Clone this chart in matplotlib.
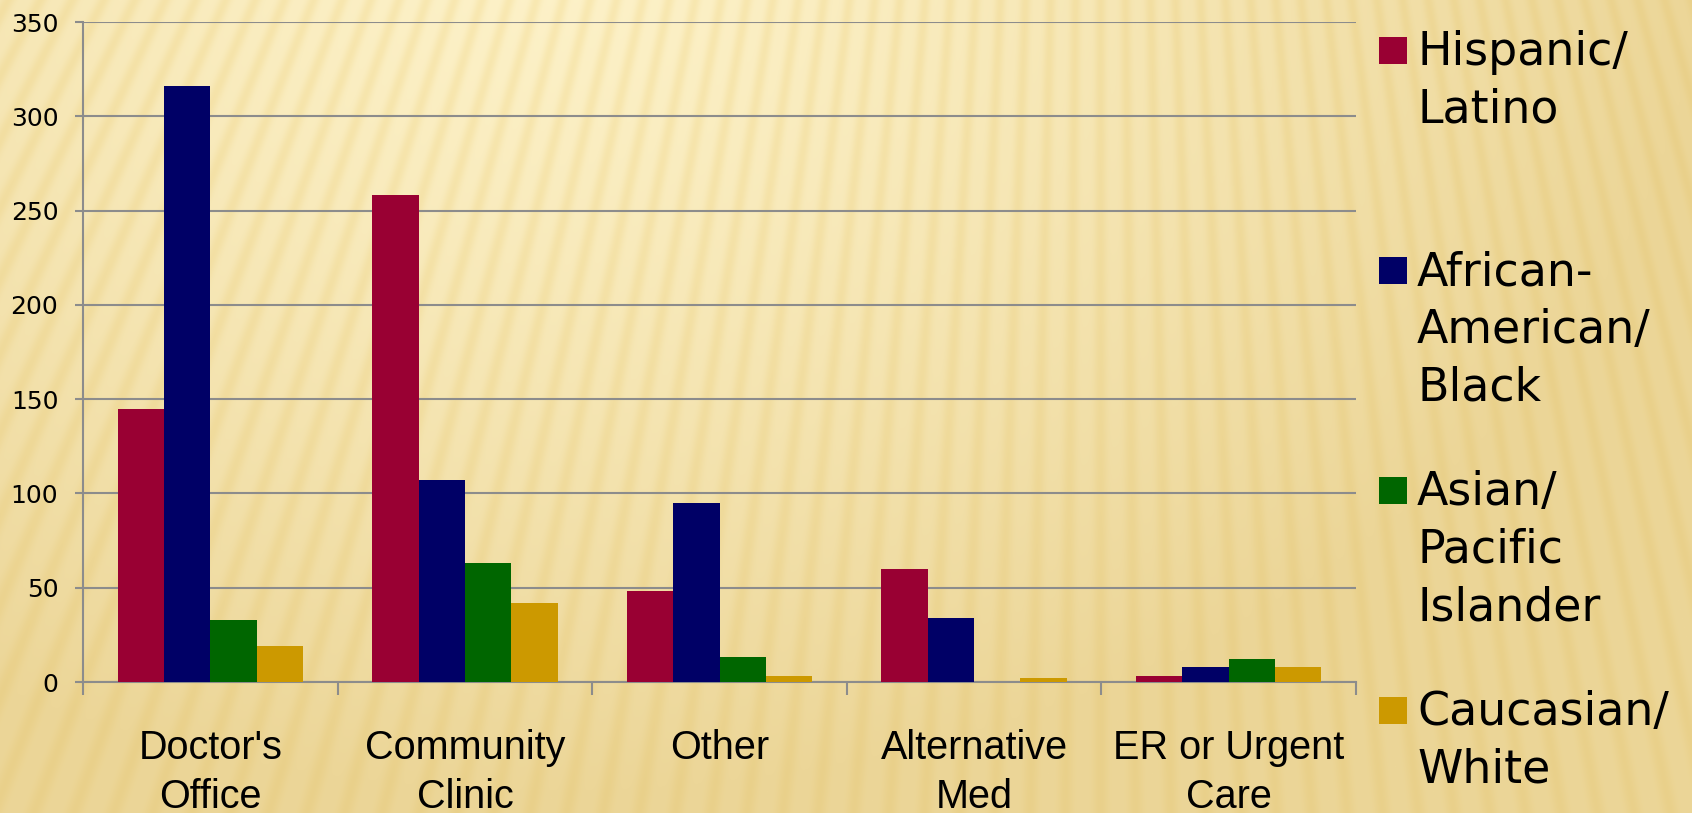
import numpy as np
import matplotlib
matplotlib.use("Agg")
import matplotlib.pyplot as plt
from matplotlib.patches import Rectangle

# data
categories = ["Doctor's\nOffice", "Community\nClinic", "Other", "Alternative\nMed", "ER or Urgent\nCare"]
groups = ["Hispanic/\nLatino", "African-\nAmerican/\nBlack", "Asian/\nPacific\nIslander", "Caucasian/\nWhite"]
hispanic = [145, 258, 48, 60, 3]
african = [316, 107, 95, 34, 8]
asian = [33, 63, 13, 0, 12]
caucasian = [19, 42, 3, 2, 8]
colors = ["#990033", "#000066", "#006600", "#CC9900"]
yticks = [0, 50, 100, 150, 200, 250, 300, 350]

W, H = 1692, 813
fig = plt.figure(figsize=(W / 100, H / 100), dpi=100)

# background: cream glow with faint light rays
yy, xx = np.mgrid[0:H, 0:W].astype(float)
theta = np.arctan2(xx - 1100, yy + 2000)
stripe = (0.5 + 0.5 * np.cos(theta / 0.0125 * 2 * np.pi)) ** 2
t = np.clip(np.sqrt(((xx - 550) / 1150) ** 2 + ((yy + 60) / 850) ** 2), 0, 1) ** 1.3
light = np.array([253, 242, 201])
dark = np.array([236, 214, 152])
bg = light[None, None, :] + (dark - light)[None, None, :] * t[..., None]
bg = bg - stripe[..., None] * np.array([4, 9, 22])[None, None, :] * (1 - 0.4 * t[..., None])
bg = np.clip(bg, 0, 255) / 255.0
fig.figimage(bg, xo=0, yo=0, origin="upper", zorder=-5)

ax = fig.add_axes([83 / W, 131 / H, (1356 - 83) / W, (682 - 22) / H])
ax.set_facecolor("none")

series = [hispanic, african, asian, caucasian]
x = np.arange(len(categories))
bw = 0.182
for i, vals in enumerate(series):
    ax.bar(x + (i - 1.5) * bw, vals, bw, color=colors[i], linewidth=0, zorder=3)

grid_c = "#8C8C8C"
ax.set_xlim(-0.5, len(categories) - 0.5)
ax.set_ylim(0, 350)
ax.set_yticks(yticks, labels=[str(v) for v in yticks], fontsize=18, family="DejaVu Sans")
ax.yaxis.grid(True, color=grid_c, linewidth=1.5, zorder=1)
ax.set_axisbelow(True)
for s in ["top", "right"]:
    ax.spines[s].set_visible(False)
for s in ["left", "bottom"]:
    ax.spines[s].set_color(grid_c)
    ax.spines[s].set_linewidth(1.5)

ax.tick_params(axis="y", length=5.8, width=1.5, color=grid_c, pad=12, labelcolor="black")

ax.set_xticks(np.arange(len(categories) + 1) - 0.5)
ax.set_xticklabels([])
ax.tick_params(axis="x", which="major", length=9, width=1.5, color=grid_c)
ax.set_xticks(x, minor=True)
ax.set_xticklabels(categories, minor=True, fontsize=28.5, family="Liberation Sans", linespacing=1.35)
ax.tick_params(axis="x", which="minor", length=0, pad=34)

# legend on the right, entries spaced evenly with marker at first line
for i, g in enumerate(groups):
    top = 37 + i * 220
    fig.add_artist(Rectangle((1379 / W, 1 - (top + 27) / H), 28 / W, 27 / H,
                             transform=fig.transFigure, color=colors[i], linewidth=0))
    fig.text(1417 / W, 1 - (top - 7) / H, g, fontsize=33, family="DejaVu Sans",
             va="top", ha="left", linespacing=1.37)

fig.savefig("out.png", dpi=100)
